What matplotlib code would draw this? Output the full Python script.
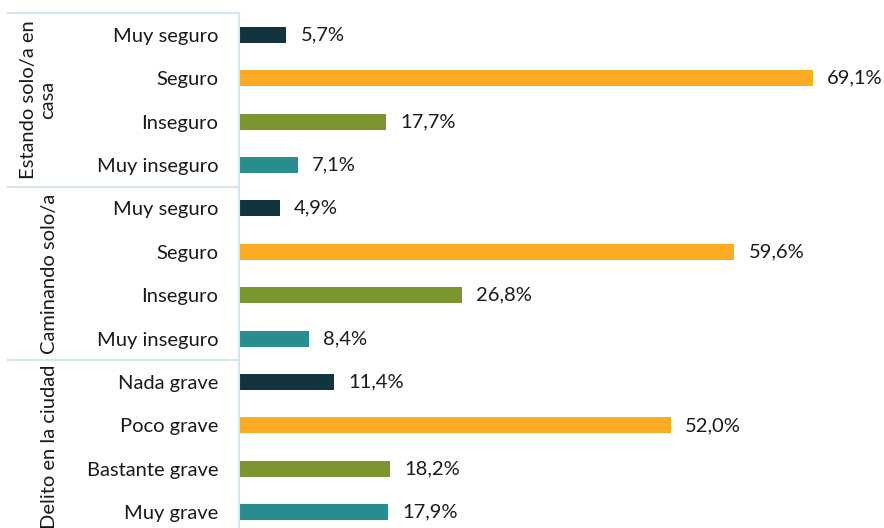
import matplotlib
matplotlib.use("Agg")
import matplotlib.pyplot as plt
import matplotlib.transforms as mtransforms

plt.rcParams['font.family'] = ['Lato', 'DejaVu Sans']

groups = ["Estando solo/a en\ncasa", "Caminando solo/a", "Delito en la ciudad"]
categories = ["Muy seguro", "Seguro", "Inseguro", "Muy inseguro",
              "Muy seguro", "Seguro", "Inseguro", "Muy inseguro",
              "Nada grave", "Poco grave", "Bastante grave", "Muy grave"]
values = [5.7, 69.1, 17.7, 7.1,
          4.9, 59.6, 26.8, 8.4,
          11.4, 52.0, 18.2, 17.9]

palette = ["#12343f", "#fcab22", "#7a962f", "#278d8f"]
line_col = "#d2e6f0"
fs = 14.5

W, H = 884, 528
fig = plt.figure(figsize=(W / 100, H / 100), dpi=100)
ax_left, ax_top, ax_bot = 239, 13, 534
ax = fig.add_axes([ax_left / W, (H - ax_bot) / H, (W - ax_left) / W, (ax_bot - ax_top) / H])

ypos = list(range(len(values)))
colors = [palette[i % 4] for i in ypos]
ax.barh(ypos, values, height=0.37, color=colors)

for y, v in zip(ypos, values):
    ax.text(v + 1.7, y, f"{v:.1f}%".replace(".", ","), va="center", ha="left",
            fontsize=fs, color="#1a1a1a")

ax.set_xlim(0, (W - ax_left) / 8.31)
ax.set_ylim(len(values) - 0.5, -0.5)
ax.set_yticks(ypos)
ax.set_yticklabels(categories, fontsize=fs, color="#1a1a1a")
ax.tick_params(axis="y", length=0, pad=15)
ax.set_xticks([])
for s in ["top", "right", "bottom"]:
    ax.spines[s].set_visible(False)
ax.spines["left"].set_color(line_col)
ax.spines["left"].set_linewidth(1.5)

# group separators and group names on the left
trans = mtransforms.blended_transform_factory(ax.transAxes, ax.transData)
x0 = -(ax_left - 8) / (W - ax_left)
for k in range(3):
    ax.plot([x0, 0], [4 * k - 0.5] * 2, transform=trans, color=line_col,
            lw=1.5, clip_on=False)
label_x = [38, 50, 50]
for k, name in enumerate(groups):
    ax.text(-(ax_left - label_x[k]) / (W - ax_left), 4 * k + 1.5, name,
            transform=trans, rotation=90, ha="center", va="center",
            fontsize=fs, color="#1a1a1a", linespacing=1.2, clip_on=False)

fig.savefig("out.png", dpi=100)
